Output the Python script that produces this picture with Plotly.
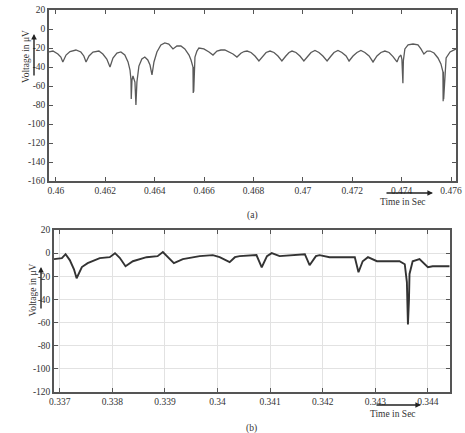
import plotly.graph_objects as go

# ---------------- data: panel (a) ----------------
t_a = [0.45972, 0.45988, 0.46008, 0.46020, 0.46028, 0.46041, 0.46057, 0.46081,
       0.46101, 0.46113, 0.46122, 0.46134, 0.46150, 0.46174, 0.46190, 0.46206,
       0.46219, 0.46231, 0.46247, 0.46263, 0.46279, 0.46292, 0.46300, 0.46304,
       0.46305, 0.46306, 0.46307, 0.46308, 0.46312, 0.46320, 0.46324, 0.46325,
       0.46328, 0.46336, 0.46348, 0.46360, 0.46372, 0.46381, 0.46389, 0.46397,
       0.46409, 0.46425, 0.46441, 0.46457, 0.46474, 0.46490, 0.46506, 0.46522,
       0.46539, 0.46547, 0.46555, 0.46556, 0.46557, 0.46558, 0.46563, 0.46571,
       0.46579, 0.46599, 0.46620, 0.46636, 0.46652, 0.46668, 0.46684, 0.46701,
       0.46717, 0.46733, 0.46749, 0.46762, 0.46774, 0.46790, 0.46806, 0.46822,
       0.46838, 0.46851, 0.46867, 0.46883, 0.46899, 0.46915, 0.46931, 0.46944,
       0.46956, 0.46972, 0.46988, 0.47004, 0.47021, 0.47033, 0.47049, 0.47065,
       0.47081, 0.47098, 0.47114, 0.47126, 0.47142, 0.47158, 0.47175, 0.47187,
       0.47203, 0.47219, 0.47235, 0.47251, 0.47268, 0.47284, 0.47300, 0.47316,
       0.47332, 0.47349, 0.47365, 0.47381, 0.47389, 0.47397, 0.47401, 0.47404,
       0.47405, 0.47406, 0.47407, 0.47413, 0.47426, 0.47446, 0.47466, 0.47478,
       0.47490, 0.47503, 0.47515, 0.47531, 0.47547, 0.47559, 0.47567, 0.47568,
       0.47569, 0.47570, 0.47580, 0.47596, 0.47620]
v_a = [-24.2, -23.2, -26.3, -29.5, -34.7, -27.4, -23.7, -22.1,
       -24.2, -28.4, -34.7, -28.4, -24.2, -23.2, -26.3, -31.6,
       -40.0, -30.5, -25.3, -24.2, -27.4, -34.7, -43.2, -53.7,
       -73.7, -53.7, -73.0, -53.7, -49.5, -55.8, -80.0, -56.0,
       -55.8, -39.0, -31.6, -29.5, -32.6, -37.9, -48.4, -34.7,
       -24.2, -16.8, -14.7, -15.8, -21.0, -17.9, -17.9, -21.0,
       -27.4, -32.6, -40.0, -67.4, -40.0, -66.0, -29.5, -23.2,
       -20.0, -21.0, -24.2, -27.4, -23.2, -22.1, -22.1, -24.2,
       -26.3, -29.5, -25.5, -23.7, -23.2, -24.7, -28.4, -33.7,
       -28.4, -24.7, -23.2, -24.7, -28.4, -33.7, -28.4, -24.7,
       -23.2, -24.7, -28.4, -33.7, -28.4, -24.7, -22.5, -24.7,
       -28.4, -33.7, -28.4, -24.7, -22.5, -24.7, -28.4, -33.7,
       -28.4, -24.7, -22.5, -24.7, -28.4, -34.7, -28.4, -24.7,
       -23.2, -24.7, -29.0, -34.7, -29.5, -27.4, -32.0, -44.0,
       -57.0, -44.0, -33.0, -21.0, -16.8, -15.8, -16.8, -21.0,
       -26.3, -23.2, -23.2, -25.3, -30.5, -36.8, -45.0, -76.0,
       -45.0, -74.0, -30.5, -24.2, -21.0]

xticks_a = [0.46, 0.462, 0.464, 0.466, 0.468, 0.47, 0.472, 0.474, 0.476]
xtext_a = ["0.46", "0.462", "0.464", "0.466", "0.468", "0.47", "0.472", "0.474", "0.476"]
yticks_a = [20, 0, -20, -40, -60, -80, -100, -120, -140, -160]
ytext_a = ["20", "0", "-20", "-40", "-60", "-80", "-100", "-120", "-140", "-160"]

# ---------------- data: panel (b) ----------------
t_b = [0.33689, 0.33704, 0.33711, 0.33719, 0.33727, 0.33732, 0.33742, 0.33753,
       0.33776, 0.33795, 0.33805, 0.33814, 0.33825, 0.33839, 0.33865, 0.33886,
       0.33896, 0.33905, 0.33917, 0.33934, 0.33966, 0.33991, 0.34004, 0.34023,
       0.34033, 0.34042, 0.34074, 0.34084, 0.34094, 0.34103, 0.34118, 0.34166,
       0.34175, 0.34187, 0.34194, 0.34213, 0.34261, 0.34268, 0.34276, 0.34286,
       0.34303, 0.34346, 0.34356, 0.34360, 0.34362, 0.34364, 0.34365, 0.34371,
       0.34384, 0.34400, 0.34409, 0.34441]
v_b = [-5.2, -4.3, -0.9, -6.0, -14.0, -21.7, -12.0, -8.7,
       -4.3, -3.5, 0.0, -4.0, -11.3, -7.0, -3.5, -2.6,
       0.9, -3.5, -8.7, -5.2, -2.6, -1.7, -3.5, -7.8,
       -3.5, -2.6, -1.7, -12.2, -2.6, 0.0, -2.6, -0.9,
       -10.4, -2.6, -1.7, -3.5, -3.5, -16.5, -7.0, -3.5,
       -7.0, -7.0, -9.6, -25.0, -61.7, -40.0, -18.0, -7.0,
       -5.2, -12.2, -11.3, -11.3]

xticks_b = [0.337, 0.338, 0.339, 0.34, 0.341, 0.342, 0.343, 0.344]
xtext_b = ["0.337", "0.338", "0.339", "0.34", "0.341", "0.342", "0.343", "0.344"]
yticks_b = [20, 0, -20, -40, -60, -80, -100, -120]
ytext_b = ["20", "0", "-20", "-40", "-60", "-80", "-100", "-120"]

W, H = 465, 433
FONT = "Liberation Serif"

fig = go.Figure()
fig.add_trace(go.Scatter(x=t_a, y=v_a, mode="lines", xaxis="x", yaxis="y",
                         line=dict(color="#5a5a5a", width=1.3), showlegend=False))
fig.add_trace(go.Scatter(x=t_b, y=v_b, mode="lines", xaxis="x2", yaxis="y2",
                         line=dict(color="#333333", width=1.9), showlegend=False))

axis_common = dict(showline=True, linecolor="#555555", linewidth=1.5, mirror="ticks",
                   ticks="inside", ticklen=4, tickcolor="#555555", zeroline=False,
                   automargin=False,
                   tickfont=dict(family=FONT, size=9.5, color="#333333"))

fig.update_layout(
    template="none",
    width=W, height=H, margin=dict(l=0, r=0, t=0, b=0, pad=0),
    paper_bgcolor="white", plot_bgcolor="white",
    xaxis=dict(domain=[49 / W, 456 / W], range=[0.45972, 0.47620], anchor="y",
               tickvals=xticks_a, ticktext=xtext_a, showgrid=False, **axis_common),
    yaxis=dict(domain=[1 - 181 / H, 1 - 10 / H], range=[-160, 20], anchor="x",
               tickvals=yticks_a, ticktext=ytext_a, showgrid=False, **axis_common),
    xaxis2=dict(domain=[54 / W, 450 / W], range=[0.33689, 0.34442], anchor="y2",
                tickvals=xticks_b, ticktext=xtext_b, showgrid=True,
                gridcolor="#e2e2e2", gridwidth=1, **axis_common),
    yaxis2=dict(domain=[1 - 392 / H, 1 - 230 / H], range=[-120, 20], anchor="x2",
                tickvals=yticks_b, ticktext=ytext_b, showgrid=True,
                gridcolor="#e2e2e2", gridwidth=1, **axis_common),
)

def px(x):
    return x / W

def py(y):
    return 1 - y / H

ann = []
tf = dict(family=FONT, size=9.5, color="#333333")
txt = dict(xref="paper", yref="paper", showarrow=False, font=tf,
           xanchor="center", yanchor="middle")
# Voltage labels
ann.append(dict(x=px(26), y=py(57), text="Voltage in μV", textangle=-90, **txt))
ann.append(dict(x=px(32.5), y=py(290), text="Voltage in μV", textangle=-90, **txt))
# Time labels
ann.append(dict(x=px(403), y=py(202), text="Time in Sec", **txt))
ann.append(dict(x=px(393), y=py(414), text="Time in Sec", **txt))
# panel labels
ann.append(dict(x=px(252), y=py(215), text="(a)", **txt))
ann.append(dict(x=px(251), y=py(428), text="(b)", **txt))
# arrows
arrow = dict(xref="paper", yref="paper", axref="pixel", ayref="pixel", text="",
             showarrow=True, arrowhead=2, arrowsize=0.8, arrowwidth=1.4, arrowcolor="#222222")
ann.append(dict(x=px(34), y=py(34), ax=0, ay=43, **arrow))
ann.append(dict(x=px(41), y=py(267), ax=0, ay=43, **arrow))
ann.append(dict(x=px(433), y=py(193), ax=-48, ay=0, **arrow))
ann.append(dict(x=px(421), y=py(405), ax=-46, ay=0, **arrow))
fig.update_layout(annotations=ann)

fig.write_html("out.html")
